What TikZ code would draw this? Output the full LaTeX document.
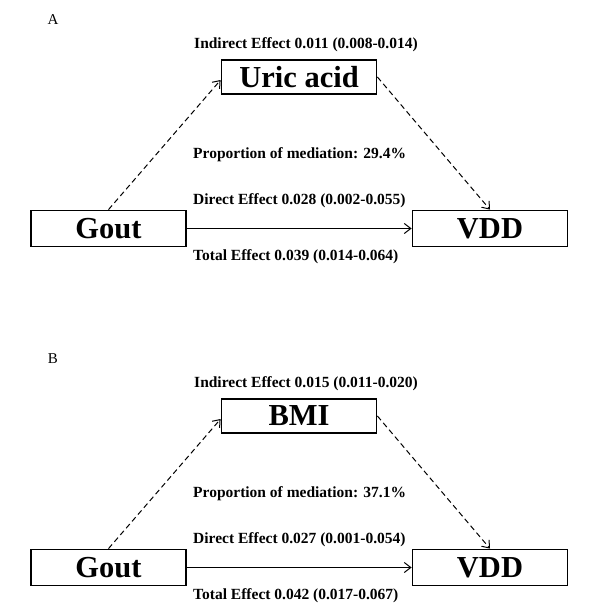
\documentclass[tikz,border=0pt]{standalone}
\usepackage{fontspec}
\setmainfont{Liberation Serif}
\usetikzlibrary{arrows.meta}
\tikzset{
  varbox/.style={draw, line width=1.8pt, minimum width=155pt, minimum height=36pt, inner sep=0pt, font=\fontsize{30.5}{30}\selectfont\bfseries},
  efftext/.style={font=\fontsize{15.5}{16}\selectfont\bfseries, inner sep=0pt},
  paneltag/.style={font=\fontsize{15}{15}\selectfont, inner sep=0pt},
  medarrow/.style={line width=1pt, dash pattern=on 5.5pt off 3.5pt, -{Straight Barb[length=6.5pt,width=10pt,line width=1pt]}},
  dirarrow/.style={line width=1pt, -{Straight Barb[length=6.5pt,width=10pt,line width=1pt]}}
}
\begin{document}
\begin{tikzpicture}[x=1pt,y=-1pt]
\useasboundingbox (0,0) rectangle (609,613);
% Panel A
\node[paneltag] (tagA) at (53,20) {A};
\node[efftext] (indA) at (306,45) {Indirect Effect 0.011 (0.008-0.014)};
\node[varbox, minimum height=34pt] (medA) at (299,77) {Uric acid};
\node[varbox] (goutA) at (108.5,228.5) {Gout};
\node[varbox] (vddA) at (490,228.5) {VDD};
\node[efftext, anchor=west] (propA) at (193,155) {Proportion of mediation: 29.4\%};
\node[efftext, anchor=west] (dirA) at (193,201) {Direct Effect 0.028 (0.002-0.055)};
\node[efftext, anchor=west] (totA) at (193,257) {Total Effect 0.039 (0.014-0.064)};
\draw[medarrow] (goutA.north) -- ([yshift=-3pt]medA.west);
\draw[medarrow] (medA.east) -- (vddA.north);
\draw[dirarrow] (goutA.east) -- (vddA.west);
% Panel B
\begin{scope}[yshift=-339pt]
\node[paneltag] (tagB) at (53,20) {B};
\node[efftext] (indB) at (306,45) {Indirect Effect 0.015 (0.011-0.020)};
\node[varbox, minimum height=34pt] (medB) at (299,77) {BMI};
\node[varbox] (goutB) at (108.5,228.5) {Gout};
\node[varbox] (vddB) at (490,228.5) {VDD};
\node[efftext, anchor=west] (propB) at (193,155) {Proportion of mediation: 37.1\%};
\node[efftext, anchor=west] (dirB) at (193,201) {Direct Effect 0.027 (0.001-0.054)};
\node[efftext, anchor=west] (totB) at (193,257) {Total Effect 0.042 (0.017-0.067)};
\draw[medarrow] (goutB.north) -- ([yshift=-3pt]medB.west);
\draw[medarrow] (medB.east) -- (vddB.north);
\draw[dirarrow] (goutB.east) -- (vddB.west);
\end{scope}
\end{tikzpicture}
\end{document}
